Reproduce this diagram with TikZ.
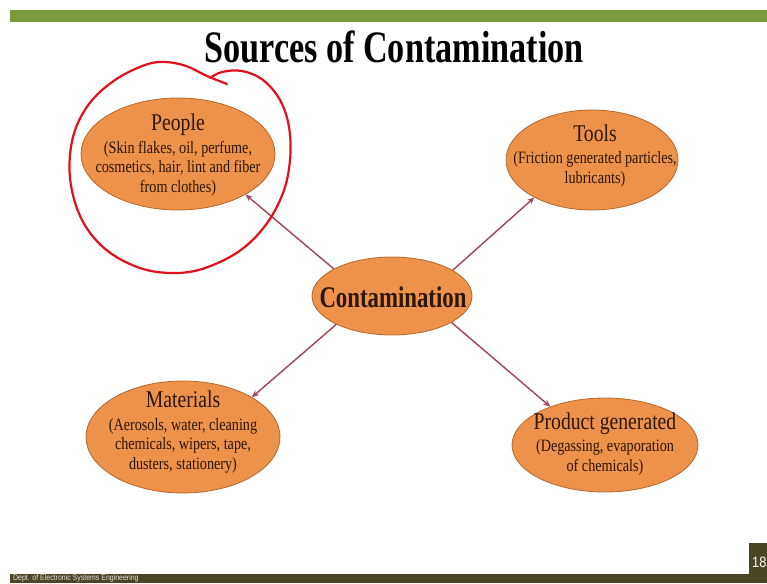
\documentclass[tikz,border=0pt]{standalone}
\usepackage{fontspec}
\setmainfont{Liberation Serif}
\newfontfamily\condreg{Liberation Serif}[FakeStretch=0.82]
\newfontfamily\condbold{Liberation Serif Bold}[FakeStretch=0.76]
\newfontfamily\footsans{Liberation Sans}[FakeStretch=0.85]
\usetikzlibrary{shapes.geometric,arrows.meta}
\definecolor{barGreen}{HTML}{7A9A3C}
\definecolor{footDark}{HTML}{4B4528}
\definecolor{blobFill}{HTML}{EC924A}
\definecolor{blobEdge}{HTML}{B8672A}
\definecolor{txtDark}{HTML}{2B1608}
\definecolor{arrowRed}{HTML}{A24452}
\definecolor{penRed}{HTML}{E0101C}
\newcommand{\hdfont}{\condreg\fontsize{24}{26}\selectfont}
\newcommand{\subfont}{\condreg\fontsize{17.3}{19.5}\selectfont}
\tikzset{
  blob/.style={ellipse, draw=blobEdge, line width=0.8pt, fill=blobFill, inner sep=0pt},
  blobtext/.style={align=center, text=txtDark, inner sep=0pt, font=\subfont},
  link/.style={draw=arrowRed, line width=1.4pt, -{Stealth[length=7pt,width=6pt]}},
}
\begin{document}
\begin{tikzpicture}[x=1pt,y=-1pt]
\useasboundingbox (0,0) rectangle (767,583);
\fill[white] (0,0) rectangle (767,583);
% top bar
\fill[barGreen] (10,10) rectangle (767,22);
% footer
\fill[footDark] (10,574) rectangle (767,583);
\fill[footDark] (749,543) rectangle (767,574);
\node[anchor=base west, inner sep=0pt, text=white, font=\footsans\fontsize{15}{15}\selectfont] (pagenum) at (752,567) {18};
\node[anchor=base west, inner sep=0pt, text=white!85!footDark, font=\footsans\fontsize{8.2}{9}\selectfont] (dept) at (13,580.6) {Dept. of Electronic Systems Engineering};
% title
\node[anchor=base, inner sep=0pt, text=black, font=\condbold\fontsize{45}{48}\selectfont] (title) at (394,63) {Sources of Contamination};
% ellipses
\node[blob, minimum width=194pt, minimum height=112pt] (people) at (178,154) {};
\node[blob, minimum width=172pt, minimum height=100pt] (tools) at (592,160) {};
\node[blob, minimum width=160pt, minimum height=78pt] (cont) at (392,296) {};
\node[blob, minimum width=194pt, minimum height=112pt] (mat) at (183,437) {};
\node[blob, minimum width=186pt, minimum height=94pt] (prod) at (605,445) {};
% texts
\node[blobtext] (peoplet) at (178,155) {{\hdfont People}\\[3pt](Skin flakes, oil, perfume,\\cosmetics, hair, lint and fiber\\from clothes)};
\node[blobtext] (toolst) at (595,156) {{\hdfont Tools}\\[3pt](Friction generated particles,\\lubricants)};
\node[blobtext, font=\condbold\fontsize{30}{32}\selectfont] (contt) at (393,297) {Contamination};
\node[blobtext] (matt) at (183,432) {{\hdfont Materials}\\[3pt](Aerosols, water, cleaning\\chemicals, wipers, tape,\\dusters, stationery)};
\node[blobtext] (prodt) at (605,444) {{\hdfont Product generated}\\[3pt](Degassing, evaporation\\of chemicals)};
% connectors
\draw[link] (cont.155.5) -- (people.-31);
\draw[link] (cont.23.4) -- (tools.-147.5);
\draw[link] (cont.207) -- (mat.30);
\draw[link] (cont.-24.7) -- (prod.145.6);
% hand-drawn circle
\draw[penRed, line width=2.2pt, line cap=round, line join=round]
  plot[smooth, tension=0.6] coordinates {(210,78) (222,72) (242,71) (263,80) (280,100) (289,127) (290,160) (283,193) (265,226) (238,252) (202,269) (170,273) (137,267) (104,248) (81,218) (70,178) (73,137) (89,104) (115,80) (145,65) (165,62) (186,66) (207,76) (227,84)};
\end{tikzpicture}
\end{document}
